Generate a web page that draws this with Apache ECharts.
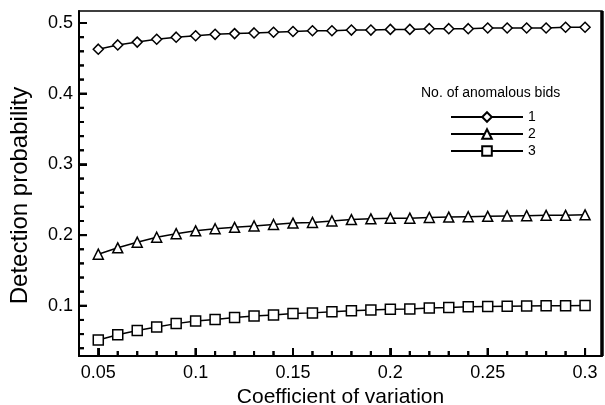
<!DOCTYPE html>
<html>
<head>
<meta charset="utf-8">
<script src="https://cdn.jsdelivr.net/npm/echarts@6/dist/echarts.min.js"></script>
<style>
  html, body { margin: 0; padding: 0; background: #fff; }
  #chart { width: 605px; height: 405px; }
</style>
</head>
<body>
<div id="chart"></div>
<script>
// ----- Data -----
const cv = [0.05, 0.06, 0.07, 0.08, 0.09, 0.10, 0.11, 0.12, 0.13, 0.14, 0.15, 0.16, 0.17,
            0.18, 0.19, 0.20, 0.21, 0.22, 0.23, 0.24, 0.25, 0.26, 0.27, 0.28, 0.29, 0.30];
const bids1 = [0.463, 0.469, 0.473, 0.477, 0.480, 0.482, 0.484, 0.485, 0.486, 0.487, 0.488, 0.489, 0.489,
               0.490, 0.490, 0.491, 0.491, 0.492, 0.492, 0.492, 0.493, 0.493, 0.493, 0.493, 0.494, 0.494];
const bids2 = [0.173, 0.182, 0.190, 0.197, 0.202, 0.206, 0.209, 0.211, 0.213, 0.215, 0.217, 0.218, 0.220,
               0.222, 0.223, 0.224, 0.224, 0.225, 0.2255, 0.226, 0.2265, 0.227, 0.2275, 0.228, 0.228, 0.2287];
const bids3 = [0.0515, 0.059, 0.065, 0.070, 0.0748, 0.0784, 0.0808, 0.0836, 0.0855, 0.087, 0.089, 0.090, 0.0915,
               0.093, 0.094, 0.095, 0.0955, 0.097, 0.0975, 0.0985, 0.099, 0.0995, 0.0997, 0.100, 0.100, 0.1005];

const seriesNames = ['1', '2', '3'];
const seriesSymbols = ['diamond', 'triangle', 'rect'];

const xTicks = [0.05, 0.1, 0.15, 0.2, 0.25, 0.3];
const xMinorTicks = [0.06, 0.07, 0.08, 0.09, 0.11, 0.12, 0.13, 0.14, 0.16, 0.17, 0.18, 0.19,
                     0.21, 0.22, 0.23, 0.24, 0.26, 0.27, 0.28, 0.29];
const yTicks = [0.1, 0.2, 0.3, 0.4, 0.5];
const yMinorTicks = [0.04, 0.06, 0.08, 0.12, 0.14, 0.16, 0.18, 0.22, 0.24, 0.26, 0.28,
                     0.32, 0.34, 0.36, 0.38, 0.42, 0.44, 0.46, 0.48];

const X_MIN = 0.0401, X_MAX = 0.3087;
const Y_MIN = 0.029, Y_MAX = 0.517;
const FONT = '"Liberation Sans", Arial, sans-serif';
const MAJOR_LEN = 8, MINOR_LEN = 5, TICK_W = 2;

// ----- Chart -----
const chart = echarts.init(document.getElementById('chart'), null, { renderer: 'canvas' });

const off = () => ({ show: false });

function lineSeries(i, values) {
  return {
    name: seriesNames[i],
    type: 'line',
    data: cv.map((x, k) => [x, values[k]]),
    symbol: seriesSymbols[i],
    symbolSize: 10,
    showSymbol: true,
    lineStyle: { color: '#000', width: 1.5 },
    itemStyle: { color: '#fff', borderColor: '#000', borderWidth: 1.5 },
    z: 3 + i
  };
}

// inward tick marks, placed through the axes' own scales
function tickSeries(dir, values, len) {
  return {
    type: 'custom',
    coordinateSystem: 'cartesian2d',
    silent: true,
    clip: false,
    z: 6,
    data: values.map(v => (dir === 'x' ? [v, Y_MIN] : [X_MIN, v])),
    renderItem: (params, api) => {
      const p = api.coord([api.value(0), api.value(1)]);
      const shape = dir === 'x'
        ? { x1: p[0], y1: p[1], x2: p[0], y2: p[1] - len }
        : { x1: p[0], y1: p[1], x2: p[0] + len, y2: p[1] };
      return { type: 'line', shape, style: { stroke: '#000', lineWidth: TICK_W } };
    }
  };
}

chart.setOption({
  backgroundColor: '#fff',
  animation: false,
  textStyle: { fontFamily: FONT },
  grid: {
    left: 79, right: 3, top: 11, bottom: 49,
    outerBoundsMode: 'none',
    containLabel: false,
    show: true, borderColor: '#000', borderWidth: 1.5
  },
  title: {
    text: 'No. of anomalous bids',
    left: 416, top: 81,
    textStyle: { fontFamily: FONT, fontSize: 14, fontWeight: 'normal', color: '#000' }
  },
  legend: {
    orient: 'vertical',
    left: 445, top: 105,
    itemWidth: 72, itemHeight: 12, itemGap: 3,
    textStyle: { fontFamily: FONT, fontSize: 14, color: '#000' },
    data: seriesNames
  },
  xAxis: {
    type: 'value', min: X_MIN, max: X_MAX,
    name: 'Coefficient of variation', nameLocation: 'middle', nameGap: 30,
    nameTextStyle: { fontFamily: FONT, fontSize: 21, color: '#000' },
    axisLine: { show: true, onZero: false, lineStyle: { color: '#000', width: 2 } },
    axisTick: { show: true, inside: true, length: MAJOR_LEN, customValues: xTicks,
                lineStyle: { color: '#000', width: TICK_W } },
    axisLabel: { show: true, customValues: xTicks, margin: 8,
                 fontFamily: FONT, fontSize: 18, color: '#000' },
    splitLine: off()
  },
  yAxis: {
    type: 'value', min: Y_MIN, max: Y_MAX,
    name: 'Detection probability', nameLocation: 'middle', nameGap: 47,
    nameTextStyle: { fontFamily: FONT, fontSize: 24, color: '#000', padding: [0, 24, 0, 0] },
    axisLine: { show: true, onZero: false, lineStyle: { color: '#000', width: 2 } },
    axisTick: { show: true, inside: true, length: MAJOR_LEN, customValues: yTicks,
                lineStyle: { color: '#000', width: TICK_W } },
    axisLabel: { show: true, customValues: yTicks, margin: 6,
                 fontFamily: FONT, fontSize: 18, color: '#000' },
    splitLine: off()
  },
  series: [
    tickSeries('x', xTicks, MAJOR_LEN),
    tickSeries('x', xMinorTicks, MINOR_LEN),
    tickSeries('y', yTicks, MAJOR_LEN),
    tickSeries('y', yMinorTicks, MINOR_LEN),
    lineSeries(0, bids1),
    lineSeries(1, bids2),
    lineSeries(2, bids3)
  ]
});

// ticks and thick right edge as graphic lines, positioned from the axis scales
const px = v => chart.convertToPixel({ xAxisIndex: 0 }, v);
const py = v => chart.convertToPixel({ yAxisIndex: 0 }, v);
const x0 = px(X_MIN), x1 = px(X_MAX), y0 = py(Y_MIN), y1 = py(Y_MAX);
const marks = [];
function seg(a, b, c, d, w) {
  marks.push({ type: 'line', silent: true, z: 20,
               shape: { x1: a, y1: b, x2: c, y2: d },
               style: { stroke: '#000', lineWidth: w } });
}
xTicks.forEach(v => seg(px(v), y0, px(v), y0 - MAJOR_LEN, TICK_W));
xMinorTicks.forEach(v => seg(px(v), y0, px(v), y0 - MINOR_LEN, TICK_W));
yTicks.forEach(v => seg(x0, py(v), x0 + MAJOR_LEN, py(v), TICK_W));
yMinorTicks.forEach(v => seg(x0, py(v), x0 + MINOR_LEN, py(v), TICK_W));
seg(x1, y0, x1, y1, 3.5);
chart.setOption({ graphic: marks });
</script>
</body>
</html>
